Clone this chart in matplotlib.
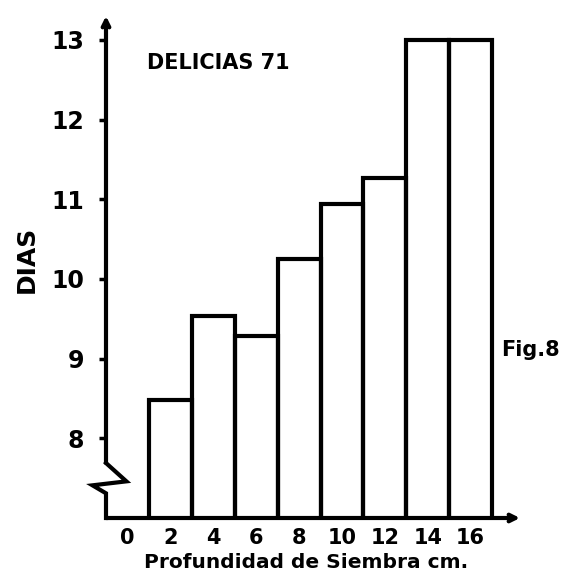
import matplotlib
matplotlib.use("Agg")
import matplotlib.pyplot as plt

# Profundidad de siembra (cm) vs dias a emergencia, Delicias 71
depth = [2, 4, 6, 8, 10, 12, 14, 16]
days = [8.48, 9.54, 9.29, 10.25, 10.94, 11.27, 13.0, 13.0]
xtick_labels = ["0", "2", "4", "6", "8", "10", "12", "14", "16"]
ytick_values = [8, 9, 10, 11, 12, 13]

plt.rcParams["font.family"] = "DejaVu Sans"
plt.rcParams["font.weight"] = "bold"

fig = plt.figure(figsize=(5.74, 5.73), dpi=100)
ax = fig.add_axes([106 / 574, 55 / 573, 414 / 574, 502 / 573])
ax.set_xlim(-1, 18.3)
ax.set_ylim(7, 13.3)

ax.bar(depth, days, width=2, fill=False, edgecolor="black", linewidth=3)

for s in ax.spines.values():
    s.set_visible(False)

lw = 3
# x axis with arrow
ax.annotate("", xy=(1, 0), xytext=(0, 0), xycoords="axes fraction",
            arrowprops=dict(arrowstyle="->", lw=lw, color="black",
                            shrinkA=0, shrinkB=0, mutation_scale=12))
# y axis with break mark near the bottom
ax.plot([-1, -1, -1.63, -0.05, -1], [7, 7.31, 7.41, 7.46, 7.69],
        color="black", lw=lw, clip_on=False, solid_joinstyle="miter")
ax.annotate("", xy=(-1, 13.3), xytext=(-1, 7.69), xycoords="data",
            annotation_clip=False,
            arrowprops=dict(arrowstyle="->", lw=lw, color="black",
                            shrinkA=0, shrinkB=0, mutation_scale=12))

ax.set_xticks([0] + depth)
ax.set_xticklabels(xtick_labels, fontsize=15, fontweight="bold")
ax.tick_params(axis="x", length=0, pad=7)
ax.set_yticks(ytick_values)
ax.set_yticklabels([str(v) for v in ytick_values], fontsize=17, fontweight="bold")
ax.tick_params(axis="y", direction="out", length=5, width=2.5, pad=11)

fig.text(218 / 574, 1 - 63 / 573, "DELICIAS 71", fontsize=15, fontweight="bold",
         ha="center", va="center")
fig.text(27 / 574, 1 - 259 / 573, "DIAS", fontsize=18, fontweight="bold",
         rotation=90, ha="center", va="center")
fig.text(501 / 574, 1 - 350 / 573, "Fig.8", fontsize=15, fontweight="bold",
         ha="left", va="center")
fig.text(306 / 574, 1 - 562 / 573, "Profundidad de Siembra cm.", fontsize=14.5,
         fontweight="bold", ha="center", va="center")

fig.savefig("out.png", dpi=100)
